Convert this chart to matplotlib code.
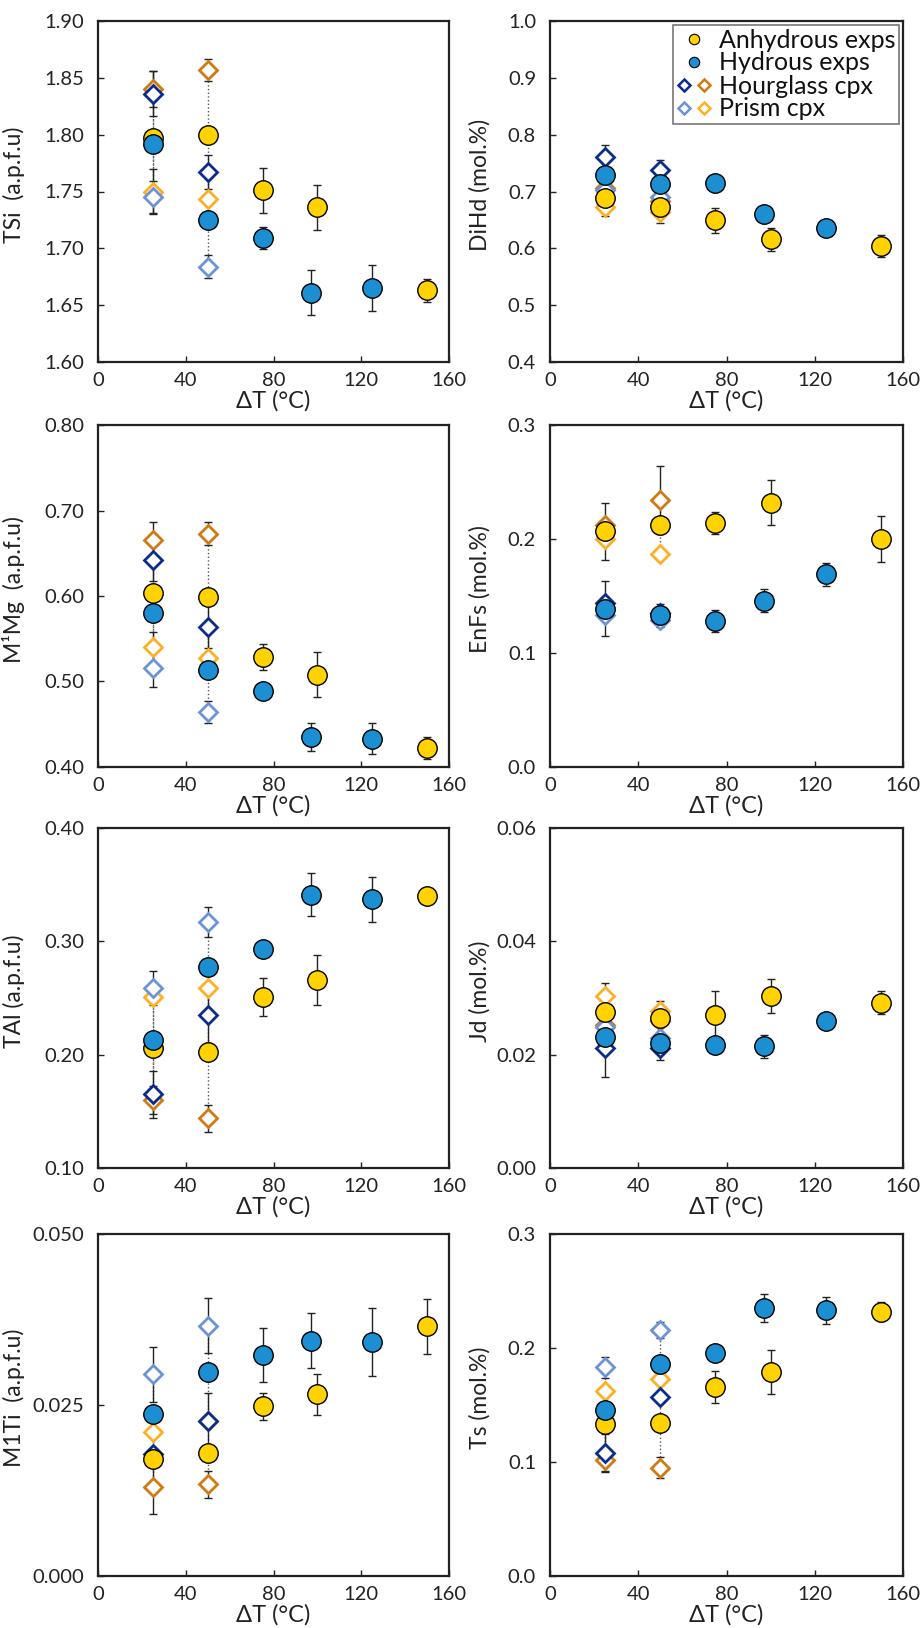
import numpy as np
import matplotlib
matplotlib.use("Agg")
import matplotlib.pyplot as plt
from matplotlib.lines import Line2D
from matplotlib.legend_handler import HandlerTuple

plt.rcParams['font.family'] = ['Lato', 'DejaVu Sans']

nan = np.nan
x_anh = [25, 50, 75, 100, 150]
x_hyd = [25, 50, 75, 97, 125]
x_cpx = [25, 50]

panels = ["TSi", "DiHd", "M1Mg", "EnFs", "TAl", "Jd", "M1Ti", "Ts"]
ylabels = ["TSi  (a.p.f.u)", "DiHd (mol.%)", "M¹Mg  (a.p.f.u)", "EnFs (mol.%)",
           "TAl (a.p.f.u)", "Jd (mol.%)", "M1Ti  (a.p.f.u)", "Ts (mol.%)"]
yticks = [[1.60, 1.65, 1.70, 1.75, 1.80, 1.85, 1.90],
          [0.4, 0.5, 0.6, 0.7, 0.8, 0.9, 1.0],
          [0.40, 0.50, 0.60, 0.70, 0.80],
          [0.0, 0.1, 0.2, 0.3],
          [0.10, 0.20, 0.30, 0.40],
          [0.00, 0.02, 0.04, 0.06],
          [0.000, 0.025, 0.050],
          [0.0, 0.1, 0.2, 0.3]]
yfmt = ["%.2f", "%.1f", "%.2f", "%.1f", "%.2f", "%.2f", "%.3f", "%.1f"]

# anhydrous experiments (mean)
anh_val = {"TSi": [1.797, 1.800, 1.751, 1.736, 1.663],
           "DiHd": [0.689, 0.673, 0.649, 0.616, 0.604],
           "M1Mg": [0.604, 0.599, 0.529, 0.508, 0.422],
           "EnFs": [0.207, 0.212, 0.214, 0.232, 0.200],
           "TAl": [0.206, 0.202, 0.251, 0.266, 0.340],
           "Jd": [0.0276, 0.0264, 0.0270, 0.0304, 0.0292],
           "M1Ti": [0.0171, 0.0180, 0.0248, 0.0266, 0.0365],
           "Ts": [0.133, 0.134, 0.166, 0.179, 0.232]}
anh_err = {"TSi": [nan, nan, 0.020, 0.020, 0.010],
           "DiHd": [nan, nan, 0.022, 0.020, 0.020],
           "M1Mg": [nan, nan, 0.015, 0.026, 0.013],
           "EnFs": [0.025, nan, 0.010, 0.020, 0.020],
           "TAl": [nan, nan, 0.017, 0.022, 0.007],
           "Jd": [nan, nan, 0.0042, 0.0030, 0.0020],
           "M1Ti": [nan, nan, 0.002, 0.003, 0.004],
           "Ts": [nan, nan, 0.014, 0.019, 0.008]}

# hydrous experiments (mean)
hyd_val = {"TSi": [1.792, 1.725, 1.709, 1.661, 1.665],
           "DiHd": [0.729, 0.714, 0.715, 0.661, 0.636],
           "M1Mg": [0.580, 0.514, 0.489, 0.435, 0.433],
           "EnFs": [0.139, 0.133, 0.128, 0.146, 0.169],
           "TAl": [0.213, 0.277, 0.293, 0.341, 0.337],
           "Jd": [0.0231, 0.0221, 0.0217, 0.0215, 0.0259],
           "M1Ti": [0.0237, 0.0298, 0.0323, 0.0344, 0.0342],
           "Ts": [0.146, 0.186, 0.196, 0.235, 0.233]}
hyd_err = {"TSi": [nan, nan, 0.010, 0.020, 0.020],
           "DiHd": [nan, nan, nan, nan, nan],
           "M1Mg": [nan, nan, 0.005, 0.016, 0.018],
           "EnFs": [0.024, 0.010, 0.010, 0.010, 0.010],
           "TAl": [nan, nan, 0.003, 0.019, 0.020],
           "Jd": [nan, nan, nan, 0.002, nan],
           "M1Ti": [nan, nan, 0.004, 0.004, 0.005],
           "Ts": [nan, nan, nan, 0.012, 0.012]}

# hourglass / prism cpx, anhydrous runs
hg_anh_val = {"TSi": [1.840, 1.857], "DiHd": [0.707, 0.683], "M1Mg": [0.665, 0.673],
              "EnFs": [0.212, 0.234], "TAl": [0.160, 0.144], "Jd": [0.0252, 0.0259],
              "M1Ti": [0.0130, 0.0134], "Ts": [0.102, 0.095]}
hg_anh_err = {"TSi": [0.016, 0.010], "DiHd": [nan, nan], "M1Mg": [0.021, 0.013],
              "EnFs": [nan, 0.030], "TAl": [0.012, 0.012], "Jd": [nan, nan],
              "M1Ti": [0.004, 0.002], "Ts": [0.010, 0.009]}
pr_anh_val = {"TSi": [1.750, 1.743], "DiHd": [0.673, 0.664], "M1Mg": [0.540, 0.527],
              "EnFs": [0.200, 0.187], "TAl": [0.251, 0.259], "Jd": [0.0304, 0.0277],
              "M1Ti": [0.0211, 0.0227], "Ts": [0.162, 0.173]}
pr_anh_err = {"TSi": [0.020, nan], "DiHd": [0.016, 0.019], "M1Mg": [0.018, nan],
              "EnFs": [nan, nan], "TAl": [nan, nan], "Jd": [0.0022, 0.0017],
              "M1Ti": [nan, nan], "Ts": [nan, nan]}

# hourglass / prism cpx, hydrous runs
hg_hyd_val = {"TSi": [1.836, 1.767], "DiHd": [0.760, 0.738], "M1Mg": [0.642, 0.564],
              "EnFs": [0.144, 0.135], "TAl": [0.165, 0.235], "Jd": [0.0211, 0.0211],
              "M1Ti": [0.0178, 0.0227], "Ts": [0.108, 0.157]}
hg_hyd_err = {"TSi": [0.020, 0.015], "DiHd": [0.022, 0.018], "M1Mg": [0.025, 0.025],
              "EnFs": [nan, nan], "TAl": [0.021, 0.025], "Jd": [0.005, 0.002],
              "M1Ti": [nan, 0.004], "Ts": [0.017, nan]}
pr_hyd_val = {"TSi": [1.745, 1.684], "DiHd": [0.703, 0.691], "M1Mg": [0.516, 0.464],
              "EnFs": [0.133, 0.129], "TAl": [0.259, 0.317], "Jd": [0.0249, 0.0230],
              "M1Ti": [0.0295, 0.0366], "Ts": [0.183, 0.216]}
pr_hyd_err = {"TSi": [0.014, 0.010], "DiHd": [nan, nan], "M1Mg": [0.022, 0.013],
              "EnFs": [nan, nan], "TAl": [0.015, 0.013], "Jd": [nan, nan],
              "M1Ti": [0.004, 0.004], "Ts": [0.009, 0.007]}

c_anh = "#FFD200"
c_hyd = "#1C8FD3"
c_hg_hyd = "#0B2C8C"
c_pr_hyd = "#6D93D5"
c_hg_anh = "#CF7A12"
c_pr_anh = "#FDB024"
spine_c = "#222222"

W, H = 922, 1628
fig = plt.figure(figsize=(W / 100, H / 100), dpi=100)
col_x = [(98, 351), (550, 353)]
row_y = [(21, 362), (425, 767), (828, 1168), (1234, 1576)]


def errbars(ax, x, y, e, z):
    x = np.asarray(x, float); y = np.asarray(y, float); e = np.asarray(e, float)
    m = ~np.isnan(e)
    if m.any():
        ax.errorbar(x[m], y[m], yerr=e[m], fmt='none', ecolor='#222222',
                    elinewidth=1.0, capsize=3, capthick=1.0, zorder=z)


for i, p in enumerate(panels):
    r, c = divmod(i, 2)
    x0, w = col_x[c]
    t, b = row_y[r]
    ax = fig.add_axes([x0 / W, 1 - b / H, w / W, (b - t) / H])

    # dotted tie lines between hourglass and prism domains
    for hg, pr in ((hg_anh_val[p], pr_anh_val[p]), (hg_hyd_val[p], pr_hyd_val[p])):
        for k, xx in enumerate(x_cpx):
            ax.plot([xx, xx], [hg[k], pr[k]], ls=':', color='#555555', lw=1.0, zorder=1)

    errbars(ax, x_cpx, hg_anh_val[p], hg_anh_err[p], 2)
    errbars(ax, x_cpx, pr_anh_val[p], pr_anh_err[p], 2)
    errbars(ax, x_cpx, hg_hyd_val[p], hg_hyd_err[p], 2)
    errbars(ax, x_cpx, pr_hyd_val[p], pr_hyd_err[p], 2)
    errbars(ax, x_anh, anh_val[p], anh_err[p], 2)
    errbars(ax, x_hyd, hyd_val[p], hyd_err[p], 2)

    ax.plot(x_cpx, hg_anh_val[p], 'D', ms=9, mfc='white', mec=c_hg_anh, mew=2, ls='', zorder=3)
    ax.plot(x_cpx, pr_anh_val[p], 'D', ms=9, mfc='white', mec=c_pr_anh, mew=2, ls='', zorder=3)
    ax.plot(x_cpx, hg_hyd_val[p], 'D', ms=9, mfc='white', mec=c_hg_hyd, mew=2, ls='', zorder=4)
    ax.plot(x_cpx, pr_hyd_val[p], 'D', ms=9, mfc='white', mec=c_pr_hyd, mew=2, ls='', zorder=4)
    ax.plot(x_anh, anh_val[p], 'o', ms=14, mfc=c_anh, mec='black', mew=1.0, ls='', zorder=5)
    ax.plot(x_hyd, hyd_val[p], 'o', ms=14, mfc=c_hyd, mec='black', mew=1.0, ls='', zorder=6)

    ax.set_xlim(0, 160)
    ax.set_xticks([0, 40, 80, 120, 160])
    ax.set_ylim(yticks[i][0], yticks[i][-1])
    ax.set_yticks(yticks[i])
    ax.set_yticklabels([yfmt[i] % v for v in yticks[i]])
    ax.tick_params(direction='in', length=4, width=1, color=spine_c,
                   labelsize=14.5, labelcolor='#222222')
    ax.tick_params(axis='y', pad=10)
    ax.tick_params(axis='x', pad=7)
    for s in ax.spines.values():
        s.set_linewidth(1.6)
        s.set_color(spine_c)
    ax.set_xlabel("ΔT (°C)", fontsize=17, color='#222222', labelpad=1)
    ax.set_ylabel(ylabels[i], fontsize=16.5, color='#222222')
    ax.yaxis.set_label_coords((25 - x0) / w if c == 0 else (491 - x0) / w, 0.52)

    if i == 1:
        h_anh = Line2D([], [], marker='o', ms=7.5, mfc=c_anh, mec='black', mew=0.8, ls='')
        h_hyd = Line2D([], [], marker='o', ms=7.5, mfc=c_hyd, mec='black', mew=0.8, ls='')
        d1 = Line2D([], [], marker='D', ms=6, mfc='white', mec=c_hg_hyd, mew=1.8, ls='')
        d2 = Line2D([], [], marker='D', ms=6, mfc='white', mec=c_hg_anh, mew=1.8, ls='')
        d3 = Line2D([], [], marker='D', ms=6, mfc='white', mec=c_pr_hyd, mew=1.8, ls='')
        d4 = Line2D([], [], marker='D', ms=6, mfc='white', mec=c_pr_anh, mew=1.8, ls='')
        leg = ax.legend([h_anh, h_hyd, (d1, d2), (d3, d4)],
                        ["Anhydrous exps", "Hydrous exps", "Hourglass cpx", "Prism cpx"],
                        handler_map={tuple: HandlerTuple(ndivide=None, pad=0.2)},
                        loc='upper right', fontsize=18, frameon=True, fancybox=False,
                        edgecolor='#777777', framealpha=1, borderaxespad=0.15,
                        labelspacing=0.0, handlelength=1.4, handletextpad=0.3,
                        borderpad=0.15)
        leg.get_frame().set_linewidth(1.2)
        for tx in leg.get_texts():
            tx.set_color('#111111')

fig.savefig("out.png", dpi=100)
